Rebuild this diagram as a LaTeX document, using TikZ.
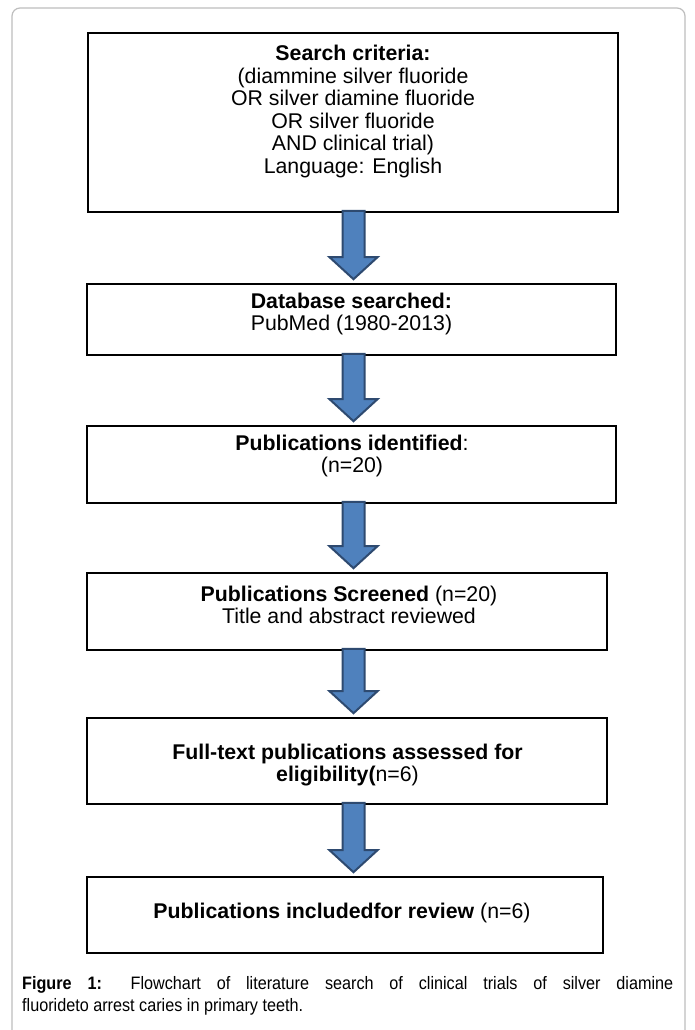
\documentclass[tikz,border=0pt]{standalone}
\usepackage{fontspec}
\setmainfont{Liberation Sans}
\newfontfamily\capfont[FakeStretch=0.9]{Liberation Sans}
\usetikzlibrary{calc}
\definecolor{arrfill}{RGB}{79,129,189}
\definecolor{arrdraw}{RGB}{46,74,112}
\definecolor{framegray}{RGB}{190,190,190}
\tikzset{
  flowbox/.style={draw=black, line width=1.6pt, fill=white, inner sep=0pt},
  boxtext/.style={align=center, inner sep=0pt, font=\fontsize{21.3}{22.6}\selectfont},
  blockarr/.style={fill=arrfill, draw=arrdraw, line width=2pt, line join=miter},
}
\newcommand{\blkarrow}[2]{%
  \draw[blockarr]
    ($(#1.south -| ax)+(-11,-2)$) --
    ($(#2.north -| ax)+(-11,-26)$) --
    ($(#2.north -| ax)+(-24,-26)$) --
    ($(#2.north -| ax)+(0,-4)$) --
    ($(#2.north -| ax)+(24,-26)$) --
    ($(#2.north -| ax)+(11,-26)$) --
    ($(#1.south -| ax)+(11,-2)$) -- cycle;}
\begin{document}
\begin{tikzpicture}[x=1pt,y=-1pt]
\useasboundingbox (0,0) rectangle (695,1030);
\fill[white] (0,0) rectangle (695,1030);
\draw[framegray, line width=1.2pt, rounded corners=8pt] (12,1045) -- (12,8) -- (685,8) -- (685,1045);

\coordinate (ax) at (353.5,0);

\node[flowbox, minimum width=530pt, minimum height=179pt] (b1) at (353,122.5) {};
\node[flowbox, minimum width=529pt, minimum height=71pt] (b2) at (351.5,319.5) {};
\node[flowbox, minimum width=529pt, minimum height=77pt] (b3) at (351.5,464.5) {};
\node[flowbox, minimum width=520pt, minimum height=77pt] (b4) at (347,611.5) {};
\node[flowbox, minimum width=520pt, minimum height=86pt] (b5) at (347,761) {};
\node[flowbox, minimum width=516pt, minimum height=76pt] (b6) at (345,915) {};

\node[boxtext] (t1) at (353,111.5) {\textbf{Search criteria:}\\(diammine silver fluoride\\OR silver diamine fluoride\\OR silver fluoride\\AND clinical trial)\\Language: English};
\node[boxtext] (t2) at (351.5,314) {\textbf{Database searched:}\\PubMed (1980-2013)};
\node[boxtext] (t3) at (352,456) {\textbf{Publications identified}:\\(n=20)};
\node[boxtext] (t4) at (349,605) {\textbf{Publications Screened} (n=20)\\Title and abstract reviewed};
\node[boxtext] (t5) at (347.5,765) {\textbf{Full-text publications assessed for}\\\textbf{eligibility(}n=6)};
\node[boxtext] (t6) at (342,913) {\textbf{Publications includedfor review} (n=6)};

\blkarrow{b1}{b2}
\blkarrow{b2}{b3}
\blkarrow{b3}{b4}
\blkarrow{b4}{b5}
\blkarrow{b5}{b6}

\node[anchor=north west, inner sep=0pt, text width=651pt, align=justify,
      font=\capfont\fontsize{18}{22}\selectfont] (cap) at (22,976)
  {\textbf{Figure 1:} Flowchart of literature search of clinical trials of silver diamine\linebreak fluorideto arrest caries in primary teeth.};
\end{tikzpicture}
\end{document}
